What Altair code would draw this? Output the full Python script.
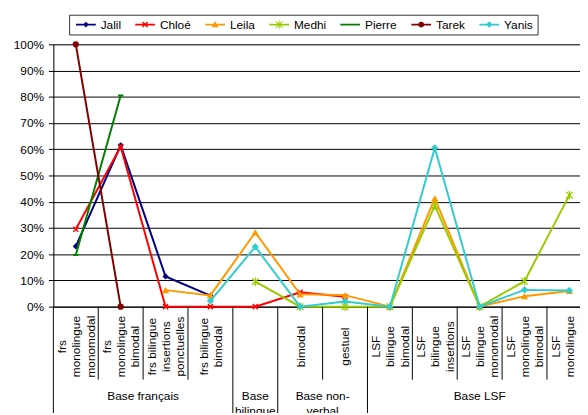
import altair as alt
import pandas as pd

FONT = "Liberation Sans"

# ---------------- data ----------------
series = ["Jalil", "Chloé", "Leila", "Medhi", "Pierre", "Tarek", "Yanis"]
colors = ["#000080", "#FF0000", "#FF9900", "#99CC00", "#008000", "#800000", "#33CCCC"]

sub_labels = [
    ["frs", "monolingue", "monomodal"],
    ["frs", "monolingue", "bimodal"],
    ["frs bilingue", "insertions", "ponctuelles"],
    ["frs bilingue", "bimodal"],
    [" "],
    ["bimodal"],
    ["gestuel"],
    ["LSF", "bilingue", "bimodal"],
    ["LSF", "bilingue", "insertions"],
    ["LSF", "bilingue", "monomodal"],
    ["LSF", "monolingue", "bimodal"],
    ["LSF", "monolingue", "monomodal"],
]
categories = ["|".join(l) for l in sub_labels]

group_labels = ["Base français", "Base|bilingue", "Base non-|verbal", "Base LSF"]
group_sizes = [4, 1, 2, 5]

N = None
jalil = [23.0, 61.5, 11.5, 4.2, N, N, N, N, N, N, N, N]
chloe = [29.5, 61.0, 0.0, 0.0, 0.0, 5.5, 3.8, N, N, N, N, N]
leila = [N, N, 6.3, 4.3, 28.3, 4.7, 4.4, 0.0, 41.3, 0.0, 4.0, 6.0]
medhi = [N, N, N, N, 9.5, 0.0, 0.0, 0.0, 38.5, 0.0, 9.7, 42.5]
pierre = [19.7, 80.5, N, N, N, N, N, N, N, N, N, N]
tarek = [100.0, 0.0, N, N, N, N, N, N, N, N, N, N]
yanis = [N, N, N, 2.2, 22.8, 0.0, 2.0, 0.0, 60.5, 0.0, 6.4, 6.2]
all_values = [jalil, chloe, leila, medhi, pierre, tarek, yanis]

y_ticks = list(range(0, 101, 10))

rows = []
for name, vals in zip(series, all_values):
    for cat, v in zip(categories, vals):
        if v is not None:
            rows.append({"series": name, "cat": cat, "value": v})
df = pd.DataFrame(rows)

# group centers and separators (in category-index units)
bounds = [0]
for s in group_sizes:
    bounds.append(bounds[-1] + s)
groups_df = pd.DataFrame({
    "label": group_labels,
    "center": [(bounds[i] + bounds[i + 1]) / 2 for i in range(len(group_sizes))],
})
long_b = bounds[:-1]
short_b = [i for i in range(1, len(categories)) if i not in bounds]
long_df = pd.DataFrame({"b": long_b})
short_df = pd.DataFrame({"b": short_b})

# ---------------- geometry / styling ----------------
PLOT_W = 534
XRANGE = 546
PLOT_H = 266
LINE_H = 14.5


def poly(pts):
    a = 0.0
    for i in range(len(pts)):
        x1, y1 = pts[i]
        x2, y2 = pts[(i + 1) % len(pts)]
        a += x1 * y2 - x2 * y1
    if a < 0:
        pts = pts[::-1]
    return "M" + "L".join(f"{x:.3f},{y:.3f}" for x, y in pts) + "Z"


def bar(x1, y1, x2, y2, t):
    dx, dy = x2 - x1, y2 - y1
    ln = (dx * dx + dy * dy) ** 0.5
    nx, ny = -dy / ln * t, dx / ln * t
    return poly([(x1 + nx, y1 + ny), (x2 + nx, y2 + ny), (x2 - nx, y2 - ny), (x1 - nx, y1 - ny)])


cx = 0.667
line_p = poly([(-1, -0.15), (2.333, -0.15), (2.333, 0.15), (-1, 0.15)])


def diamond(h):
    return poly([(cx, -h), (cx + h, 0), (cx, h), (cx - h, 0)])


def xmark(h, t):
    return bar(cx - h, -h, cx + h, h, t) + bar(cx - h, h, cx + h, -h, t)


legend_paths = [
    line_p + diamond(0.5),
    line_p + xmark(0.42, 0.12),
    line_p + poly([(cx, -0.6), (cx + 0.6, 0.45), (cx - 0.6, 0.45)]),
    line_p + xmark(0.55, 0.08) + bar(cx, -0.7, cx, 0.7, 0.08),
    line_p,
    line_p + f"M{cx-0.5:.3f},0A0.5,0.5 0 1,1 {cx+0.5:.3f},0A0.5,0.5 0 1,1 {cx-0.5:.3f},0Z",
    line_p + diamond(0.55),
]

# marker: (shape, filled, size, strokeWidth)
markers = [
    ("diamond", True, 40, 0),
    ("M-1,-1L1,1M-1,1L1,-1", False, 26, 1.5),
    ("triangle-up", True, 55, 0),
    ("M-1,-1L1,1M-1,1L1,-1M0,-1.3L0,1.3", False, 45, 1.3),
    ("M-1,0L1,0", False, 30, 2),
    ("circle", True, 40, 0),
    ("diamond", True, 55, 0),
]

label_offset = {
    "condition": [
        {"test": "length(split(datum.value, '|')) == 3", "value": -LINE_H},
        {"test": "length(split(datum.value, '|')) == 2", "value": -LINE_H / 2},
    ],
    "value": 0,
}

x_enc = alt.X(
    "cat:N",
    sort=categories,
    scale=alt.Scale(type="point", domain=categories, range=[0, XRANGE], padding=0.5),
    axis=alt.Axis(
        title=None, labelExpr="split(datum.value, '|')", labelAngle=270,
        labelAlign="center", labelBaseline="middle", labelPadding=40,
        labelOffset=label_offset,
        ticks=False, labelLineHeight=LINE_H, labelFontSize=12, labelFont=FONT,
        labelColor="black", domainColor="black", domainWidth=1, grid=False,
        labelOverlap=False, labelFlush=False, labelBound=False,
    ),
)
y_enc = alt.Y(
    "value:Q",
    scale=alt.Scale(domain=[0, 100], nice=False, zero=True),
    axis=alt.Axis(
        title=None, values=y_ticks, labelExpr="datum.value + '%'",
        grid=True, gridColor="#000", gridWidth=1, gridOpacity=1,
        tickSize=5, tickColor="black", domainColor="black",
        labelFontSize=12, labelFont=FONT, labelColor="black", labelPadding=5,
    ),
)
color_scale = alt.Scale(domain=series, range=colors)

leg = alt.Legend(
    title=None, orient="none", legendX=16, legendY=-30, direction="horizontal",
    columns=7, symbolSize=144, symbolStrokeWidth=0, symbolOffset=3,
    labelOffset=13, columnPadding=11, padding=4, strokeColor="#333",
    fillColor="white", labelFont=FONT, labelFontSize=12, labelColor="black",
    symbolOpacity=1, labelLimit=0,
)

base = alt.Chart(df)

# legend-only layer first (no rows drawn), so its legend settings win the merge
legend_layer = base.transform_filter("datum.value < -1000").mark_point(filled=True, opacity=1).encode(
    x=x_enc, y=y_enc,
    color=alt.Color("series:N", scale=color_scale, legend=leg),
    shape=alt.Shape("series:N", scale=alt.Scale(domain=series, range=legend_paths), legend=leg),
)
layers = [legend_layer]

for name, (shape, filled, size, sw) in zip(series, markers):
    sub = base.transform_filter(alt.datum.series == name)
    layers.append(
        sub.mark_line(strokeWidth=2).encode(
            x=x_enc, y=y_enc,
            color=alt.Color("series:N", scale=color_scale),
        )
    )
    layers.append(
        sub.mark_point(shape=shape, filled=filled, size=size, strokeWidth=sw, opacity=1).encode(
            x=x_enc, y=y_enc,
            color=alt.Color("series:N", scale=color_scale),
        )
    )

inner = alt.layer(*layers)

qx = alt.Scale(domain=[0, len(categories)], range=[0, XRANGE])

short_rules = alt.Chart(short_df).mark_rule(color="black", strokeWidth=1).encode(
    x=alt.X("b:Q", scale=qx, axis=None),
    y=alt.value(PLOT_H), y2=alt.value(PLOT_H + 74),
)
long_rules = alt.Chart(long_df).mark_rule(color="black", strokeWidth=1).encode(
    x=alt.X("b:Q", scale=qx, axis=None),
    y=alt.value(PLOT_H), y2=alt.value(PLOT_H + 140),
)
group_text = alt.Chart(groups_df).transform_calculate(
    lines="split(datum.label, '|')"
).mark_text(
    baseline="top", align="center", fontSize=12, font=FONT, color="black", lineHeight=15
).encode(
    x=alt.X("center:Q", scale=qx, axis=None),
    y=alt.value(PLOT_H + 86),
    text="lines:N",
)

chart = alt.layer(inner, short_rules, long_rules, group_text).resolve_scale(
    x="independent"
).properties(
    width=PLOT_W, height=PLOT_H,
    autosize=alt.AutoSizeParams(type="none"),
    padding={"left": 46, "top": 34, "right": 0, "bottom": 105},
    background="white",
).configure_view(stroke=None).configure(font=FONT)

chart.save("out.html", embed_options={"renderer": "svg", "actions": False})
